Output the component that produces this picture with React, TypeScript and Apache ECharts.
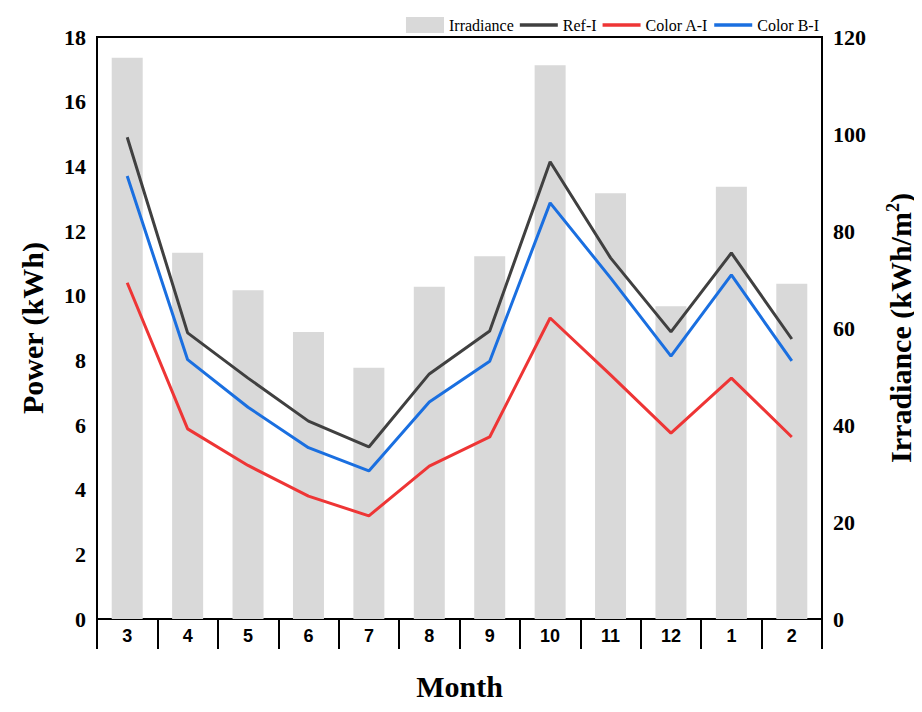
import React, { useEffect, useRef } from "react";
import * as echarts from "echarts";

const months = ["3", "4", "5", "6", "7", "8", "9", "10", "11", "12", "1", "2"];
const irradiance = [115.7, 75.5, 67.8, 59.2, 51.8, 68.5, 74.8, 114.2, 87.8, 64.5, 89.1, 69.1];
const refI = [14.9, 8.85, 7.45, 6.12, 5.32, 7.58, 8.91, 14.14, 11.17, 8.88, 11.32, 8.66];
const colorAI = [10.4, 5.88, 4.75, 3.8, 3.19, 4.73, 5.63, 9.31, 7.55, 5.75, 7.45, 5.63];
const colorBI = [13.7, 8.02, 6.55, 5.3, 4.58, 6.71, 7.97, 12.87, 10.55, 8.13, 10.64, 7.98];

const serif = "'Liberation Serif', 'Times New Roman', serif";
const sans = "'Liberation Sans', Arial, sans-serif";
const lineIcon = "path://M0,0 L38,0 L38,3.5 L0,3.5 Z";

export default function App() {
  const ref = useRef<HTMLDivElement>(null);
  useEffect(() => {
    if (!ref.current) return;
    const chart = echarts.init(ref.current, undefined, { renderer: "svg" });
    chart.setOption({
      animation: false,
      backgroundColor: "#ffffff",
      legend: {
        top: 12,
        right: 98,
        itemWidth: 38,
        itemHeight: 16,
        itemGap: 6,
        symbolKeepAspect: true,
        textStyle: { fontFamily: serif, fontSize: 16, color: "#000" },
        data: [
          { name: "Irradiance", icon: "rect" },
          { name: "Ref-I", icon: lineIcon },
          { name: "Color A-I", icon: lineIcon },
          { name: "Color B-I", icon: lineIcon },
        ],
      },
      grid: {
        left: 97,
        right: 100,
        top: 37,
        bottom: 93,
        show: true,
        borderColor: "#000",
        borderWidth: 2,
        containLabel: false,
        outerBoundsMode: "none",
      },
      xAxis: {
        type: "category",
        data: months,
        boundaryGap: true,
        name: "Month",
        nameLocation: "middle",
        nameGap: 52,
        nameTextStyle: { fontFamily: serif, fontSize: 30, fontWeight: "bold", color: "#000" },
        axisLine: { lineStyle: { color: "#000", width: 2 } },
        axisTick: { show: true, length: 30, inside: false, lineStyle: { color: "#000", width: 2 } },
        axisLabel: { fontFamily: sans, fontSize: 18, fontWeight: "bold", color: "#000", margin: 8 },
        splitLine: { show: false },
      },
      yAxis: [
        {
          type: "value",
          min: 0,
          max: 18,
          interval: 2,
          position: "left",
          name: "Power (kWh)",
          nameLocation: "middle",
          nameRotate: 90,
          nameGap: 50,
          nameTextStyle: { fontFamily: serif, fontSize: 30, fontWeight: "bold", color: "#000" },
          axisLine: { show: true, lineStyle: { color: "#000", width: 2 } },
          axisTick: { show: false },
          axisLabel: { fontFamily: serif, fontSize: 22, fontWeight: "bold", color: "#000", margin: 11 },
          splitLine: { show: false },
        },
        {
          type: "value",
          min: 0,
          max: 120,
          interval: 20,
          position: "right",
          name: "Irradiance (kWh/m{sup|2})",
          nameLocation: "middle",
          nameRotate: 90,
          nameGap: 62,
          nameTextStyle: {
            fontFamily: serif,
            fontSize: 30,
            fontWeight: "bold",
            color: "#000",
            rich: {
              sup: { fontFamily: serif, fontSize: 18, fontWeight: "bold", color: "#000", verticalAlign: "top", padding: [0, 0, 14, 0] },
            },
          },
          axisLine: { show: true, lineStyle: { color: "#000", width: 2 } },
          axisTick: { show: false },
          axisLabel: { fontFamily: serif, fontSize: 22, fontWeight: "bold", color: "#000", margin: 11 },
          splitLine: { show: false },
        },
      ],
      series: [
        {
          name: "Irradiance",
          type: "bar",
          yAxisIndex: 1,
          data: irradiance,
          barWidth: 31,
          itemStyle: { color: "#d9d9d9" },
        },
        {
          name: "Ref-I",
          type: "line",
          data: refI,
          symbol: "none",
          lineStyle: { color: "#404040", width: 3 },
          itemStyle: { color: "#404040" },
        },
        {
          name: "Color A-I",
          type: "line",
          data: colorAI,
          symbol: "none",
          lineStyle: { color: "#ee3535", width: 3 },
          itemStyle: { color: "#ee3535" },
        },
        {
          name: "Color B-I",
          type: "line",
          data: colorBI,
          symbol: "none",
          lineStyle: { color: "#1a6fe0", width: 3 },
          itemStyle: { color: "#1a6fe0" },
        },
      ],
    });
    return () => chart.dispose();
  }, []);
  return <div ref={ref} style={{ width: 922, height: 712, margin: -8 }} />;
}
